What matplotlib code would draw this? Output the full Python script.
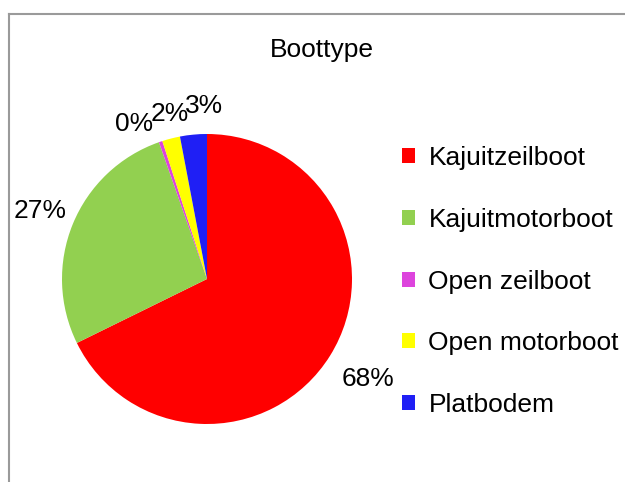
import matplotlib
matplotlib.use("Agg")
import matplotlib.pyplot as plt
from matplotlib.lines import Line2D
import numpy as np

plt.rcParams['font.family'] = ['Liberation Sans', 'DejaVu Sans']

title = "Boottype"
categories = ["Kajuitzeilboot", "Kajuitmotorboot", "Open zeilboot", "Open motorboot", "Platbodem"]
values = [68, 27, 0.4, 2, 3]
colors = ["#FF0000", "#92D050", "#DD44DD", "#FFFF00", "#1F1FF5"]

label_dist = [1.31, 1.24, 1.18, 1.17, 1.19]
angle_shift = [0, 0, 6.5, -1.5, -4.5]
FS = 19

fig = plt.figure(figsize=(6.25, 4.82), dpi=100)
fig.patch.set_facecolor("white")

ax = fig.add_axes([62/625, (482-279-145)/482, 290/625, 290/482])
wedges, _ = ax.pie(values, colors=colors, startangle=90, counterclock=False,
                   radius=1, wedgeprops=dict(linewidth=0))
ax.set_xlim(-1, 1)
ax.set_ylim(-1, 1)
ax.set_aspect('equal')

total = sum(values)
for w, v, d, s in zip(wedges, values, label_dist, angle_shift):
    ang = np.deg2rad((w.theta1 + w.theta2) / 2 + s)
    ax.text(d*np.cos(ang), d*np.sin(ang), f"{100*v/total:.0f}%",
            ha='center', va='center', fontsize=FS, clip_on=False)

fig.text(322/625, 1-50/482, title, ha='center', va='center', fontsize=FS)

fig.legend(wedges, categories, loc='center left', bbox_to_anchor=(402/625, 1-281.5/482),
           frameon=False, fontsize=FS, handlelength=0.5, handleheight=0.5,
           handletextpad=0.5, labelspacing=1.43, borderpad=0, borderaxespad=0)

# chart border
fig.add_artist(Line2D([8.5/625, 8.5/625], [0, 1-14/482], transform=fig.transFigure,
                      color="#9a9a9a", linewidth=1.5))
fig.add_artist(Line2D([8.5/625, 1], [1-14/482, 1-14/482], transform=fig.transFigure,
                      color="#9a9a9a", linewidth=1.5))

fig.savefig("out.png", dpi=100)
